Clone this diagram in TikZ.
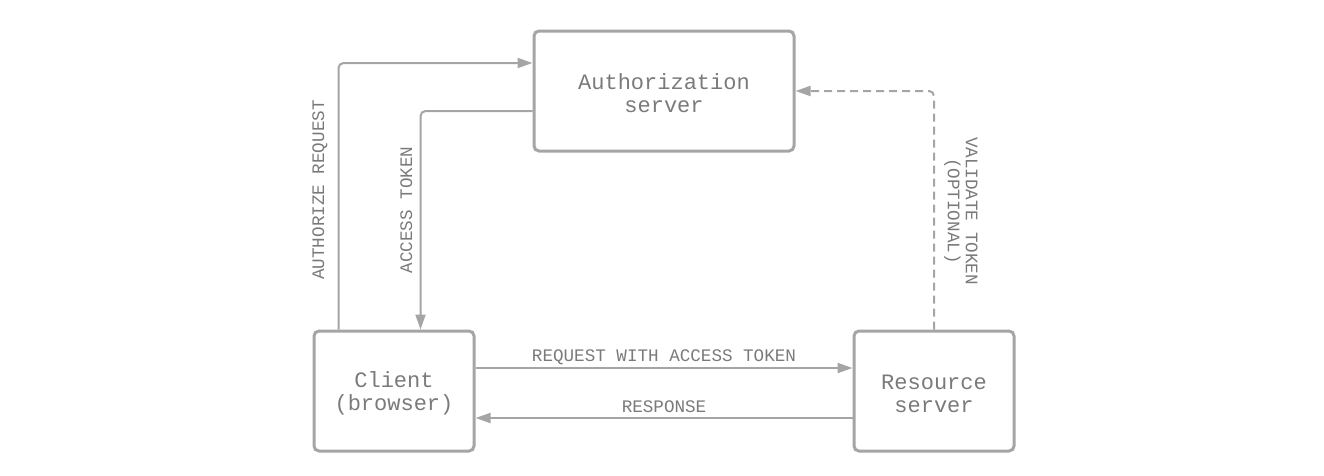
\documentclass[tikz,border=0pt]{standalone}
\usepackage{fontspec}
\setmainfont{Liberation Mono}
\usetikzlibrary{arrows.meta}
\definecolor{txtc}{HTML}{7A7A7A}
\definecolor{linec}{HTML}{A5A5A5}
\newcommand{\toplift}{\rule{0pt}{21pt}}
\begin{document}
\begin{tikzpicture}[x=1pt,y=-1pt,
  box/.style={draw=linec,line width=3pt,rounded corners=5pt,inner sep=0pt,
    align=center,text=txtc,font=\fontsize{22}{23}\selectfont},
  conn/.style={draw=linec,line width=2pt,rounded corners=5pt,
    -{Triangle[length=15pt,width=10pt]}},
  lbl/.style={text=txtc,inner sep=0pt,font=\fontsize{17.6}{18}\selectfont}]
\useasboundingbox (0,0) rectangle (1324,475);
\node[box,minimum width=260pt,minimum height=120pt] (auth) at (664,91) {\toplift Authorization\\server};
\node[box,minimum width=160pt,minimum height=120pt] (client) at (394,391) {\toplift Client\\(browser)};
\node[box,minimum width=160pt,minimum height=120pt] (res) at (934,391) {\toplift Resource\\server};
\draw[conn] ([xshift=26pt]client.north west) |- ([yshift=28pt]auth.west);
\draw[conn] ([yshift=-20pt]auth.west) -| ([xshift=108pt]client.north west);
\draw[conn] ([yshift=23pt]client.east) -- ([yshift=23pt]res.west);
\draw[conn] ([yshift=-27pt]res.west) -- ([yshift=-27pt]client.east);
\draw[conn,dash pattern=on 8pt off 5pt] (res.north) |- (auth.east);
\node[lbl,anchor=base,rotate=90] (l1) at (324,190) {AUTHORIZE REQUEST};
\node[lbl,anchor=base,rotate=90] (l2) at (412,210) {ACCESS TOKEN};
\node[lbl,anchor=base] (l3) at (664,361) {REQUEST WITH ACCESS TOKEN};
\node[lbl,anchor=base] (l4) at (664,412) {RESPONSE};
\node[lbl,rotate=-90,align=center] (l5) at (961,211) {VALIDATE TOKEN\\(OPTIONAL)};
\end{tikzpicture}
\end{document}
